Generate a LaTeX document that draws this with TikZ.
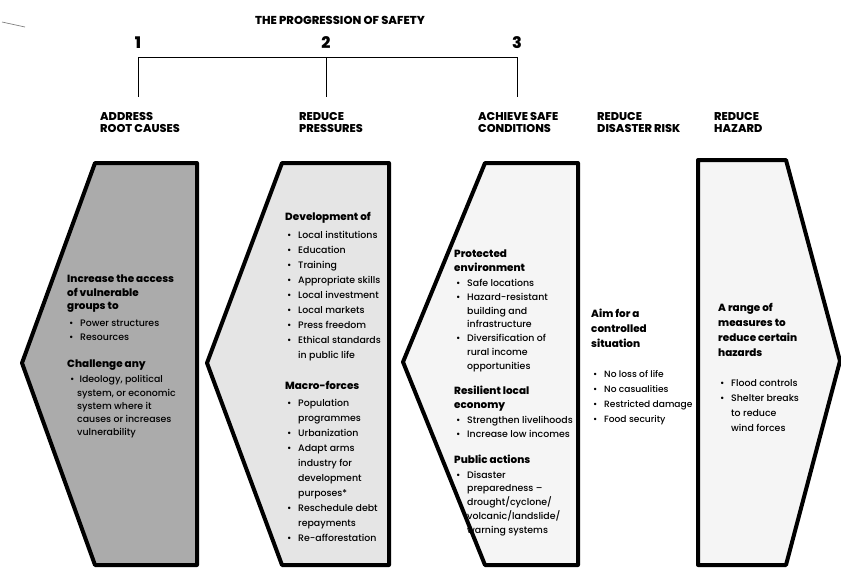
\documentclass[tikz,border=0pt]{standalone}
\usepackage{fontspec}
\setmainfont{Poppins}[UprightFont=* Medium, BoldFont=* Bold]
\newfontfamily\heavy{Poppins}[UprightFont=* ExtraBold]
\newcommand{\itm}{\hspace*{2pt}\makebox[11pt][l]{\textbullet}}
\newcommand{\cnt}{\hspace*{13pt}}
\newcommand{\hd}[1]{{\heavy\fontsize{10.4}{15}\selectfont #1}}

\begin{document}
\begin{tikzpicture}[x=1pt, y=-1pt,
    panel/.style={draw, line width=4pt, line join=round},
    head/.style={font=\fontsize{11.3}{12}\selectfont\heavy, align=left, anchor=north west, inner sep=0pt},
    num/.style={font=\fontsize{16}{16}\selectfont\heavy, inner sep=1pt},
    body/.style={font=\fontsize{9.4}{15}\selectfont, align=left, anchor=north west, inner sep=0pt}
]
    \useasboundingbox (0,0) rectangle (841,574);
    \draw[gray, line width=0.7pt] (2,22) -- (25,27);

    % progression of safety
    \node[font=\fontsize{11.5}{12}\selectfont\heavy] (title) at (340,20) {THE PROGRESSION OF SAFETY};
    \node[num] (n1) at (138,43) {1};
    \node[num] (n2) at (326,43) {2};
    \node[num] (n3) at (517,43) {3};
    \coordinate (bar) at (0,57);
    \coordinate (drop) at (0,97);
    \draw[line width=1pt] (n1 |- bar) -- (n3 |- bar);
    \foreach \n in {n1,n2,n3}
        \draw[line width=1pt] (\n |- bar) -- (\n |- drop);

    \node[head] (h1) at (100,112) {ADDRESS\\ROOT CAUSES};
    \node[head] (h2) at (299,112) {REDUCE\\PRESSURES};
    \node[head] (h3) at (478,112) {ACHIEVE SAFE\\CONDITIONS};
    \node[head] (h4) at (597,112) {REDUCE\\DISASTER RISK};
    \node[head] (h5) at (714,112) {REDUCE\\HAZARD};

    % panels
    \path[panel, fill=black!33] (95,163) -- (197,163) -- (197,565) -- (95,565) -- (22,363) -- cycle;
    \path[panel, fill=black!10] (282,163) -- (389,163) -- (389,565) -- (282,565) -- (207,363) -- cycle;
    \path[panel, fill=black!4] (485,163) -- (578,163) -- (578,565) -- (485,565) -- (403,362) -- cycle;
    \path[panel, fill=black!4] (698,160) -- (786,160) -- (840,361) -- (786,565) -- (698,565) -- cycle;

    \node[body, font=\fontsize{9.4}{13.3}\selectfont] (t1) at (67,275) {\hd{Increase the access}\\\hd{of vulnerable}\\\hd{groups to}\\[4pt]
        \itm Power structures\\\itm Resources\\[14pt]
        \hd{Challenge any}\\[2pt]\hspace*{3pt}\textbullet\hspace*{5pt}Ideology, political\\\hspace*{10pt}system, or economic\\
        \hspace*{10pt}system where it\\\hspace*{10pt}causes or increases\\\hspace*{10pt}vulnerability};

    \node[body] (t2) at (285,212) {\hd{Development of}\\[3pt]
        \itm Local institutions\\\itm Education\\\itm Training\\\itm Appropriate skills\\
        \itm Local investment\\\itm Local markets\\\itm Press freedom\\\itm Ethical standards\\\cnt in public life\\[16pt]
        \hd{Macro-forces}\\[2pt]\itm Population\\\cnt programmes\\\itm Urbanization\\\itm Adapt arms\\
        \cnt industry for\\\cnt development\\\cnt purposes*\\\itm Reschedule debt\\\cnt repayments\\\itm Re-afforestation};

    \node[body, font=\fontsize{9.4}{13.7}\selectfont] (t3) at (454,250) {\hd{Protected}\\\hd{environment}\\[1.5pt]
        \itm Safe locations\\\itm Hazard-resistant\\\cnt building and\\\cnt infrastructure\\
        \itm Diversification of\\\cnt rural income\\\cnt opportunities\\[12pt]
        \hd{Resilient local}\\\hd{economy}\\[1.5pt]\itm Strengthen livelihoods\\\itm Increase low incomes\\[12pt]
        \hd{Public actions}\\[1.5pt]\itm Disaster\\\cnt preparedness --\\\cnt drought/cyclone/\\\cnt volcanic/landslide/\\\cnt warning systems};

    \node[body, font=\fontsize{9.1}{15}\selectfont] (t4) at (591,309) {\hd{Aim for a}\\\hd{controlled}\\\hd{situation}\\[15pt]
        \itm No loss of life\\\itm No casualities\\\itm Restricted damage\\\itm Food security};

    \node[body] (t5) at (718,303) {\hd{A range of}\\\hd{measures to}\\\hd{reduce certain}\\\hd{hazards}\\[15pt]
        \itm Flood controls\\\itm Shelter breaks\\\cnt to reduce\\\cnt wind forces};
\end{tikzpicture}
\end{document}
